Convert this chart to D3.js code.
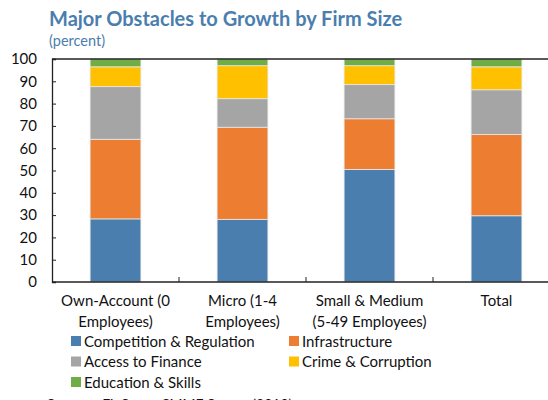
<!DOCTYPE html>
<html>
<head>
<meta charset="utf-8">
<script src="https://cdn.jsdelivr.net/npm/d3@7"></script>
<style>
  body { margin: 0; background: #fff; }
  text { font-family: Lato, "Noto Sans", sans-serif; }
</style>
</head>
<body>
<script>
// data
let categories = ["Own-Account (0|Employees)", "Micro (1-4|Employees)", "Small & Medium|(5-49 Employees)", "Total"];
let seriesNames = ["Competition & Regulation", "Infrastructure", "Access to Finance", "Crime & Corruption", "Education & Skills"];
let competition = [28.3, 28.1, 50.5, 29.7];
let infrastructure = [35.7, 41.3, 22.7, 36.4];
let finance = [23.6, 12.8, 15.3, 20.1];
let crime = [8.9, 14.8, 8.5, 10.3];
let education = [3.5, 3.0, 3.0, 3.5];
let yTicks = [0, 10, 20, 30, 40, 50, 60, 70, 80, 90, 100];
let colors = ["#4a7eae", "#ed7d31", "#a5a5a5", "#ffc000", "#70ad47"];

let width = 548, height = 400;
let margin = {top: 59, left: 52, bottom: 282};

let svg = d3.select("body").append("svg")
    .attr("width", width)
    .attr("height", height);

// title
svg.append("text")
    .attr("x", 49).attr("y", 26)
    .attr("fill", "#4a7eae")
    .attr("font-size", 20)
    .attr("font-weight", "bold")
    .text("Major Obstacles to Growth by Firm Size");
svg.append("text")
    .attr("x", 49).attr("y", 46)
    .attr("fill", "#4a7eae")
    .attr("font-size", 14.5)
    .text("(percent)");

// table for the stack
let table = categories.map(function(c, i) {
    return {cat: c, s0: competition[i], s1: infrastructure[i], s2: finance[i], s3: crime[i], s4: education[i]};
});
let keys = ["s0", "s1", "s2", "s3", "s4"];
let stacked = d3.stack().keys(keys)(table);

let x = d3.scaleBand()
    .domain(categories)
    .range([margin.left, margin.left + 4 * 127])
    .paddingInner(0.6)
    .paddingOuter(0.3);
let y = d3.scaleLinear()
    .domain([0, 100])
    .range([margin.bottom, margin.top]);

// bars
svg.append("g").selectAll("g")
    .data(stacked)
    .enter().append("g")
    .attr("fill", function(d, i) { return colors[i]; })
    .selectAll("rect")
    .data(function(d) { return d; })
    .enter().append("rect")
    .attr("x", function(d) { return x(d.data.cat); })
    .attr("width", x.bandwidth())
    .attr("y", function(d) { return y(d[1]); })
    .attr("height", function(d) { return y(d[0]) - y(d[1]); })
    .attr("stroke", "#e8e8e8")
    .attr("stroke-width", 0.8);

// top frame line
svg.append("line")
    .attr("x1", margin.left).attr("x2", width)
    .attr("y1", y(100)).attr("y2", y(100))
    .attr("stroke", "#222").attr("stroke-width", 1.3);

// y axis (ticks inward)
let yAxis = svg.append("g")
    .attr("transform", "translate(" + margin.left + ",0)")
    .call(d3.axisLeft(y).tickValues(yTicks).tickSize(-4).tickPadding(15));
yAxis.select(".domain").attr("stroke", "#222").attr("stroke-width", 1.3);
yAxis.selectAll(".tick line").attr("stroke", "#222");
yAxis.selectAll(".tick text")
    .attr("font-size", 15)
    .attr("fill", "#111")
    .style("font-family", "Lato, sans-serif");

// x axis with ticks at category boundaries
let xAxisG = svg.append("g");
xAxisG.append("line")
    .attr("x1", margin.left).attr("x2", width)
    .attr("y1", y(0)).attr("y2", y(0))
    .attr("stroke", "#222").attr("stroke-width", 1.6);
let boundaries = categories.slice(1).map(function(c) { return x(c) - x.step() * x.paddingOuter(); });
xAxisG.selectAll(".bt")
    .data(boundaries)
    .enter().append("line")
    .attr("x1", function(d) { return d; }).attr("x2", function(d) { return d; })
    .attr("y1", y(0)).attr("y2", y(0) - 5)
    .attr("stroke", "#222");

// category labels
let labels = svg.append("g").selectAll("text")
    .data(categories)
    .enter().append("text")
    .attr("text-anchor", "middle")
    .attr("font-size", 15)
    .attr("fill", "#111")
    .attr("x", function(d) { return x(d) + x.bandwidth() / 2; })
    .attr("y", 306);
labels.selectAll("tspan")
    .data(function(d) { return d.split("|"); })
    .enter().append("tspan")
    .attr("x", function() { return d3.select(this.parentNode).attr("x"); })
    .attr("dy", function(d, i) { return i === 0 ? 0 : 21; })
    .text(function(d) { return d; });

// legend
let legend = svg.append("g").selectAll("g")
    .data(seriesNames)
    .enter().append("g")
    .attr("transform", function(d, i) {
        return "translate(" + (i % 2 === 0 ? 71 : 289) + "," + (336 + Math.floor(i / 2) * 20.5) + ")";
    });
legend.append("rect")
    .attr("width", 10).attr("height", 10)
    .attr("fill", function(d, i) { return colors[i]; });
legend.append("text")
    .attr("x", 13).attr("y", 10.5)
    .attr("font-size", 15)
    .attr("fill", "#111")
    .text(function(d) { return d; });

// source (cut off at bottom edge, as in the original)
svg.append("text")
    .attr("x", 47).attr("y", 409)
    .attr("font-size", 14)
    .attr("fill", "#111")
    .text("Sources: FinScope SMME Survey (2010)");
</script>
</body>
</html>
